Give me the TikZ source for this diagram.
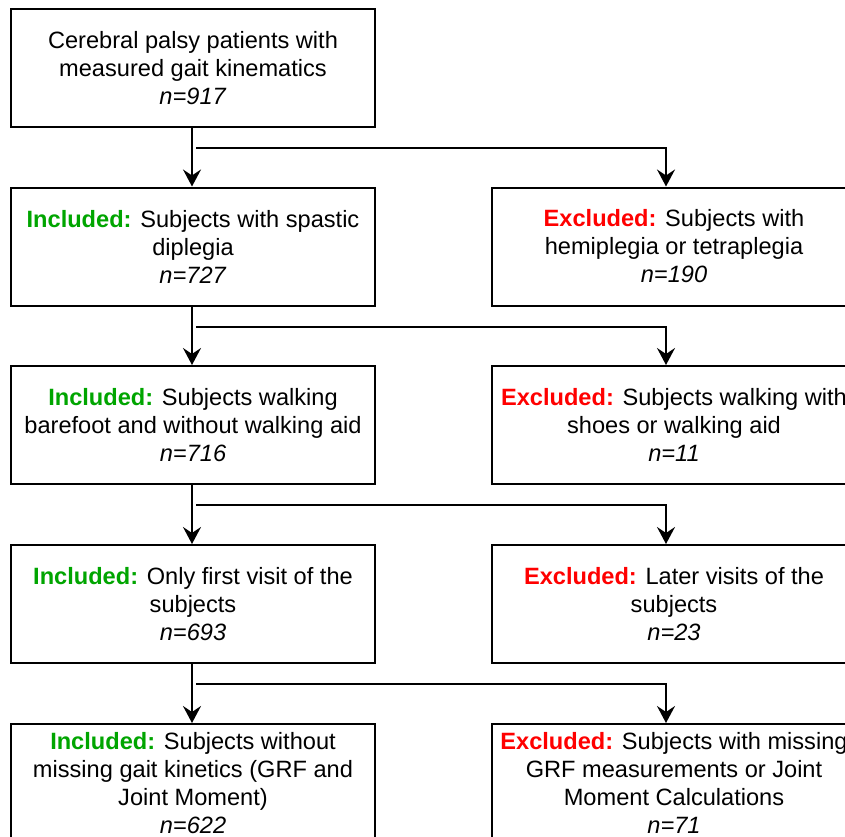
\documentclass[tikz,border=0pt]{standalone}
\usepackage{fontspec}
\setmainfont{Liberation Sans}
\usetikzlibrary{arrows.meta,calc}
\definecolor{incgreen}{RGB}{0,165,0}
\definecolor{excred}{RGB}{255,0,0}
\newcommand{\inc}{\textcolor{incgreen}{\textbf{Included:}}}
\newcommand{\exc}{\textcolor{excred}{\textbf{Excluded:}}}
\begin{document}
\begin{tikzpicture}[x=1pt,y=1pt,
  box/.style={draw,line width=2pt,minimum width=364pt,minimum height=118pt,
    align=center,inner sep=4pt,font=\fontsize{23.6}{28}\selectfont},
  arr/.style={line width=2pt,-{Stealth[length=17pt,width=18pt,inset=6pt]}},
  ]
\useasboundingbox (0,0) rectangle (845,-836);
\clip (0,0) rectangle (845,-836);
\fill[white] (0,0) rectangle (845,-836);
\node[box] (L1) at (193,-68) {Cerebral palsy patients with\\measured gait kinematics\\\textit{n=917}};
\node[box] (L2) at (193,-246.5) {\inc{} Subjects with spastic\\diplegia\\\textit{n=727}};
\node[box] (R2) at (674,-246.5) {\exc{} Subjects with\\hemiplegia or tetraplegia\\\textit{n=190}};
\node[box] (L3) at (193,-425) {\inc{} Subjects walking\\barefoot and without walking aid\\\textit{n=716}};
\node[box] (R3) at (674,-425) {\exc{} Subjects walking with\\shoes or walking aid\\\textit{n=11}};
\node[box] (L4) at (193,-604) {\inc{} Only first visit of the\\subjects\\\textit{n=693}};
\node[box] (R4) at (674,-604) {\exc{} Later visits of the\\subjects\\\textit{n=23}};
\node[box] (L5) at (193,-783) {\inc{} Subjects without\\missing gait kinetics (GRF and\\Joint Moment)\\\textit{n=622}};
\node[box] (R5) at (674,-783) {\exc{} Subjects with missing\\GRF measurements or Joint\\Moment Calculations\\\textit{n=71}};
\foreach \a/\b/\r in {L1/L2/R2,L2/L3/R3,L3/L4/R4,L4/L5/R5}{
  \draw[arr] ([xshift=-1pt]\a.south) -- ([xshift=-1pt]\b.north);
  \draw[arr] ($(\a.south)+(3,-20)$) -| ([xshift=-8pt]\r.north);
}
\end{tikzpicture}
\end{document}
